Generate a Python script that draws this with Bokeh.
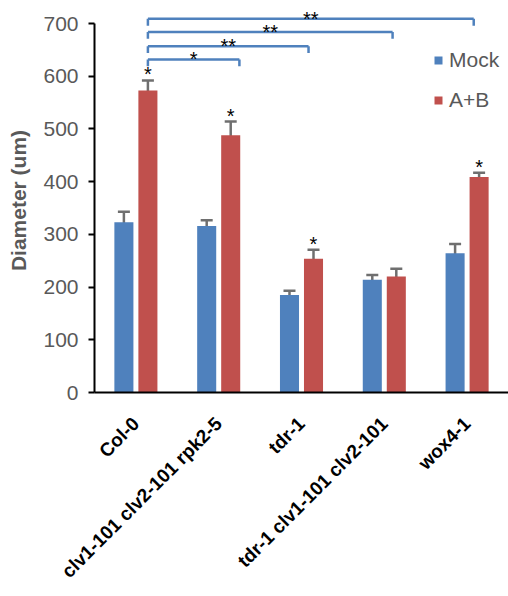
import math
from bokeh.plotting import figure
from bokeh.models import (Range1d, FixedTicker, ColumnDataSource, Whisker, TeeHead,
                          Legend, LegendItem)
from bokeh.core.properties import value
from bokeh.embed import file_html
from bokeh.resources import INLINE

# ---- data ----
genotypes = ["Col-0", "clv1-101 clv2-101 rpk2-5", "tdr-1", "tdr-1 clv1-101 clv2-101", "wox4-1"]
mock = [323, 316, 185, 214, 264]
mock_err = [20, 11, 8, 9, 18]
ab = [573, 488, 254, 220, 409]
ab_err = [19, 26, 17, 15, 8]
ab_star = ["*", "*", "*", "", "*"]
# significance brackets: Col-0 A+B vs target genotype A+B
br_target = [1, 2, 3, 4]
br_level = [632, 657, 684, 709]
br_label = ["*", "**", "**", "**"]
br_end_offset = [0.25, 0.085, 0.10, 0.08]
y_ticks = [0, 100, 200, 300, 400, 500, 600, 700]

BLUE = "#4F81BD"
RED = "#C0504D"
GRAY = "#595959"
FONT = "Liberation Sans"

n = len(genotypes)
DOD = 0.145
W = 0.23

p = figure(width=508, height=596, output_backend="svg", toolbar_location=None,
           x_range=Range1d(0, n), y_range=Range1d(0, 728.6),
           min_border_left=94, min_border_right=0, min_border_top=8, min_border_bottom=204)
p.outline_line_color = None
p.xgrid.visible = False
p.ygrid.visible = False
p.background_fill_color = "white"

centers = [i + 0.5 for i in range(n)]
src_m = ColumnDataSource(dict(x=[c - DOD for c in centers], top=mock,
                              lo=[v - e for v, e in zip(mock, mock_err)],
                              hi=[v + e for v, e in zip(mock, mock_err)]))
src_a = ColumnDataSource(dict(x=[c + DOD for c in centers], top=ab,
                              lo=[v - e for v, e in zip(ab, ab_err)],
                              hi=[v + e for v, e in zip(ab, ab_err)],
                              star=ab_star))

r_m = p.vbar(x="x", top="top", bottom=0, width=W, source=src_m, fill_color=BLUE, line_color=None)
r_a = p.vbar(x="x", top="top", bottom=0, width=W, source=src_a, fill_color=RED, line_color=None)

for src in (src_m, src_a):
    wk = Whisker(base="x", lower="lo", upper="hi", source=src,
                 line_color="#6f6f6f", line_width=2.5,
                 upper_head=TeeHead(size=12, line_color="#6f6f6f", line_width=2.5),
                 lower_head=TeeHead(size=12, line_color="#6f6f6f", line_width=2.5))
    p.add_layout(wk)

# stars above A+B bars
p.text(x="x", y="hi", text="star", source=src_a, text_align="center",
       text_baseline="alphabetic", y_offset=-6, text_font=value(FONT),
       text_font_size="20px", text_color="black")

# brackets
x0 = centers[0] + DOD
hx0, hx1, hy = [], [], []
vx, vy0, vy1 = [], [], []
lx, ly = [], []
for t, lev, off in zip(br_target, br_level, br_end_offset):
    x1 = centers[t] + off
    hx0.append(x0); hx1.append(x1); hy.append(lev)
    vx += [x0, x1]; vy0 += [lev, lev]; vy1 += [lev - 13, lev - 13]
    lx.append((x0 + x1) / 2); ly.append(lev)
p.segment(x0=hx0, y0=hy, x1=hx1, y1=hy, line_color=BLUE, line_width=2.5)
p.segment(x0=vx, y0=vy0, x1=vx, y1=vy1, line_color=BLUE, line_width=2.5)
p.text(x=lx, y=ly, text=br_label, text_align="center", text_baseline="alphabetic",
       y_offset=0, text_font=value(FONT), text_font_size="20px", text_color="black")

# axes
ya = p.yaxis[0]
ya.ticker = FixedTicker(ticks=y_ticks)
ya.bounds = (0, 700)
ya.axis_line_color = "black"
ya.axis_line_width = 2
ya.major_tick_line_color = "black"
ya.major_tick_line_width = 2
ya.major_tick_out = 6
ya.major_tick_in = 0
ya.minor_tick_line_color = None
ya.major_label_text_font = FONT
ya.major_label_text_font_size = "21px"
ya.major_label_text_color = GRAY
ya.major_label_standoff = 10
ya.axis_label = "Diameter (um)"
ya.axis_label_text_font = FONT
ya.axis_label_text_font_size = "21px"
ya.axis_label_text_font_style = "bold"
ya.axis_label_text_color = GRAY
ya.axis_label_standoff = 10

xa = p.xaxis[0]
xa.ticker = FixedTicker(ticks=centers)
xa.major_label_overrides = {c: g for c, g in zip(centers, genotypes)}
xa.major_label_orientation = math.pi / 4
xa.axis_line_color = "black"
xa.axis_line_width = 2
xa.major_tick_line_color = None
xa.minor_tick_line_color = None
xa.major_label_text_font = FONT
xa.major_label_text_font_size = "19px"
xa.major_label_text_font_style = "bold"
xa.major_label_text_color = "black"
xa.major_label_standoff = 22

legend = Legend(items=[LegendItem(label="Mock", renderers=[r_m]),
                       LegendItem(label="A+B", renderers=[r_a])],
                location=(339, 280), orientation="vertical",
                glyph_width=10, glyph_height=10, label_height=25,
                spacing=15, padding=0, margin=0, label_standoff=6,
                label_text_font=FONT, label_text_font_size="21px",
                label_text_color=GRAY, border_line_color=None,
                background_fill_alpha=0)
p.add_layout(legend, "center")

open("out.html", "w").write(file_html(p, INLINE))
